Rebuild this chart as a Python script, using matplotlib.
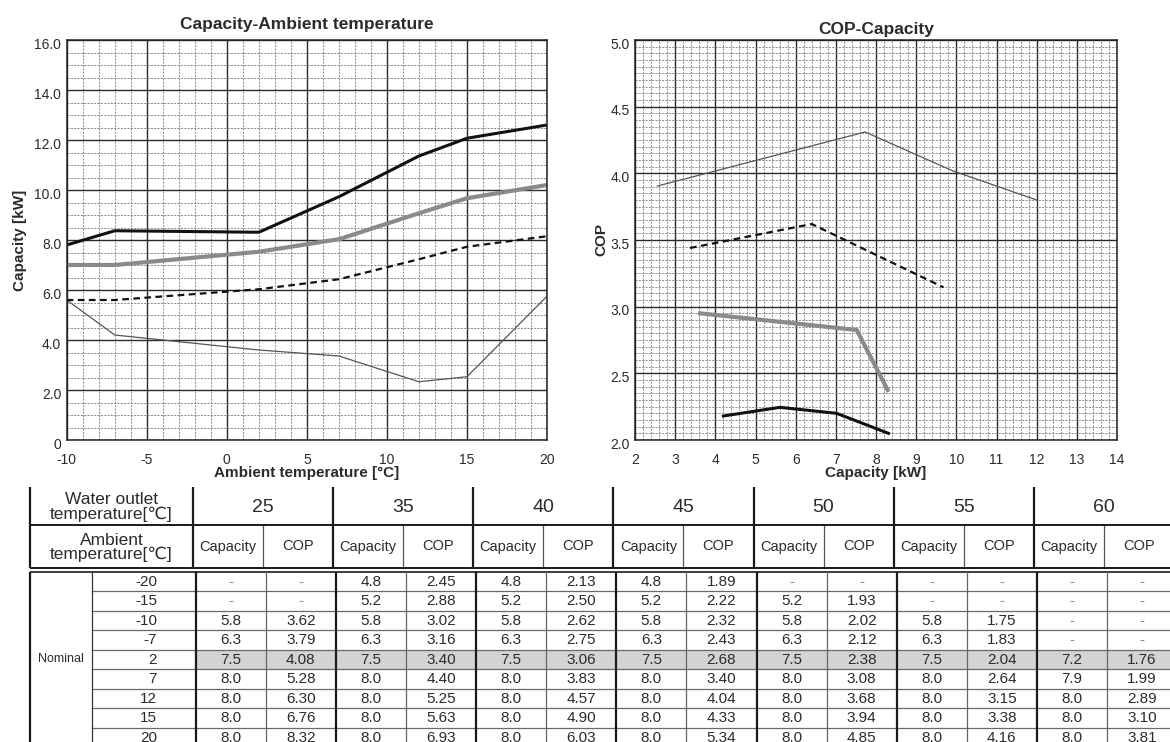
import matplotlib
matplotlib.use("Agg")
import matplotlib.pyplot as plt
from matplotlib.ticker import MultipleLocator, FuncFormatter
from matplotlib.patches import Rectangle
import matplotlib.transforms as mtransforms

plt.rcParams['font.family'] = ['Liberation Sans', 'DejaVu Sans']

# ---------------- data: Capacity vs ambient temperature ----------------
amb_x = [-10, -7, 2, 7, 12, 15, 20]
cap_black = [7.8, 8.37, 8.31, 9.73, 11.36, 12.07, 12.6]
cap_gray = [7.0, 7.0, 7.53, 8.03, 9.07, 9.67, 10.2]
cap_dash = [5.6, 5.6, 6.03, 6.43, 7.23, 7.73, 8.15]
cap_thin = [5.6, 4.2, 3.6, 3.36, 2.33, 2.53, 5.75]

# ---------------- data: COP vs capacity ----------------
cop_thin_x = [2.56, 7.73, 9.9, 12.0]
cop_thin_y = [3.905, 4.31, 4.02, 3.80]
cop_dash_x = [3.37, 6.40, 9.68]
cop_dash_y = [3.44, 3.62, 3.145]
cop_gray_x = [3.62, 7.52, 8.29]
cop_gray_y = [2.95, 2.825, 2.375]
cop_black_x = [4.20, 5.61, 7.02, 8.31]
cop_black_y = [2.18, 2.245, 2.20, 2.05]

# ---------------- data: table ----------------
water_temps = [25, 35, 40, 45, 50, 55, 60]
amb_rows = [-20, -15, -10, -7, 2, 7, 12, 15, 20]
cap_25 = [None, None, 5.8, 6.3, 7.5, 8.0, 8.0, 8.0, 8.0]
cop_25 = [None, None, 3.62, 3.79, 4.08, 5.28, 6.30, 6.76, 8.32]
cap_35 = [4.8, 5.2, 5.8, 6.3, 7.5, 8.0, 8.0, 8.0, 8.0]
cop_35 = [2.45, 2.88, 3.02, 3.16, 3.40, 4.40, 5.25, 5.63, 6.93]
cap_40 = [4.8, 5.2, 5.8, 6.3, 7.5, 8.0, 8.0, 8.0, 8.0]
cop_40 = [2.13, 2.50, 2.62, 2.75, 3.06, 3.83, 4.57, 4.90, 6.03]
cap_45 = [4.8, 5.2, 5.8, 6.3, 7.5, 8.0, 8.0, 8.0, 8.0]
cop_45 = [1.89, 2.22, 2.32, 2.43, 2.68, 3.40, 4.04, 4.33, 5.34]
cap_50 = [None, 5.2, 5.8, 6.3, 7.5, 8.0, 8.0, 8.0, 8.0]
cop_50 = [None, 1.93, 2.02, 2.12, 2.38, 3.08, 3.68, 3.94, 4.85]
cap_55 = [None, None, 5.8, 6.3, 7.5, 8.0, 8.0, 8.0, 8.0]
cop_55 = [None, None, 1.75, 1.83, 2.04, 2.64, 3.15, 3.38, 4.16]
cap_60 = [None, None, None, None, 7.2, 7.9, 8.0, 8.0, 8.0]
cop_60 = [None, None, None, None, 1.76, 1.99, 2.89, 3.10, 3.81]
highlight_row = 2  # ambient temperature of the nominal (shaded) row

W, H = 1170, 742
fig = plt.figure(figsize=(W / 100, H / 100), dpi=100)
fig.patch.set_facecolor('white')

TXT = '#2b2b2b'


def style_grid(ax, xmaj, xmin, ymaj, ymin):
    ax.xaxis.set_major_locator(MultipleLocator(xmaj))
    ax.xaxis.set_minor_locator(MultipleLocator(xmin))
    ax.yaxis.set_major_locator(MultipleLocator(ymaj))
    ax.yaxis.set_minor_locator(MultipleLocator(ymin))
    ax.grid(which='minor', color='#7a7a7a', lw=0.6, ls=(0, (2.5, 1.5)))
    ax.grid(which='major', color='#2a2a2a', lw=1.0, ls='-')
    ax.set_axisbelow(True)
    ax.tick_params(which='both', length=0, labelsize=10, labelcolor=TXT)
    ax.tick_params(axis='x', pad=9)
    ax.tick_params(axis='y', pad=4)
    for s in ax.spines.values():
        s.set_color('#222222')
        s.set_linewidth(1.1)


# ---------------- left chart ----------------
ax1 = fig.add_axes([66.7 / W, 1 - 440 / H, (547 - 66.7) / W, 400 / H])
ax1.set_xlim(-10, 20)
ax1.set_ylim(0, 16)
style_grid(ax1, 5, 1, 2, 0.5)
ax1.xaxis.set_major_formatter(FuncFormatter(lambda v, p: f"{int(round(v))}"))
ax1.yaxis.set_major_formatter(FuncFormatter(lambda v, p: "0" if abs(v) < 1e-9 else f"{v:.1f}"))
ax1.plot(amb_x, cap_thin, color='#555555', lw=0.9)
ax1.plot(amb_x, cap_dash, color='#111111', lw=1.6, ls=(0, (3, 2)))
ax1.plot(amb_x, cap_gray, color='#8a8a8a', lw=3.0)
ax1.plot(amb_x, cap_black, color='#111111', lw=2.2)
ax1.set_title('Capacity-Ambient temperature', fontsize=12.5, fontweight='bold', color=TXT, pad=8)
ax1.set_xlabel('Ambient temperature [°C]', fontsize=11, fontweight='bold', color=TXT, labelpad=0)
ax1.set_ylabel('Capacity [kW]', fontsize=11, fontweight='bold', color=TXT, labelpad=5)

# ---------------- right chart ----------------
ax2 = fig.add_axes([635 / W, 1 - 440 / H, (1117 - 635) / W, 400 / H])
ax2.set_xlim(2, 14)
ax2.set_ylim(2.0, 5.0)
style_grid(ax2, 1, 0.2, 0.5, 0.05)
ax2.xaxis.set_major_formatter(FuncFormatter(lambda v, p: f"{int(round(v))}"))
ax2.yaxis.set_major_formatter(FuncFormatter(lambda v, p: f"{v:.1f}"))
ax2.plot(cop_thin_x, cop_thin_y, color='#555555', lw=0.9)
ax2.plot(cop_dash_x, cop_dash_y, color='#111111', lw=1.6, ls=(0, (3, 2)))
ax2.plot(cop_gray_x, cop_gray_y, color='#8a8a8a', lw=3.0)
ax2.plot(cop_black_x, cop_black_y, color='#111111', lw=2.2)
ax2.set_title('COP-Capacity', fontsize=12.5, fontweight='bold', color=TXT, pad=4)
ax2.set_xlabel('Capacity [kW]', fontsize=11, fontweight='bold', color=TXT, labelpad=0)
ax2.set_ylabel('COP', fontsize=11, fontweight='bold', color=TXT, labelpad=1)

# shift y tick labels slightly downward, as in the reference
fig.canvas.draw()
down = mtransforms.ScaledTranslation(0, -2.2 / 72, fig.dpi_scale_trans)
for ax in (ax1, ax2):
    for lab in ax.get_yticklabels():
        lab.set_transform(lab.get_transform() + down)

# ---------------- table ----------------
axt = fig.add_axes([0, 0, 1, 1], zorder=-1)
axt.set_xlim(0, W)
axt.set_ylim(H, 0)
axt.axis('off')

caps = [cap_25, cap_35, cap_40, cap_45, cap_50, cap_55, cap_60]
cops = [cop_25, cop_35, cop_40, cop_45, cop_50, cop_55, cop_60]

x_left = 30.0
x_head = 192.7
block_w = 140.2
h_top, h_mid, h_bot = 487.0, 525.0, 568.0
b_top = 571.5
row_h = 19.5
b_off = 3.0  # body columns are slightly offset from the header columns
x_nom = 92.0
x_amb = x_head + b_off

blk = [x_head + i * block_w for i in range(len(water_temps) + 1)]
K = dict(color='#1a1a1a', solid_capstyle='butt')

# header vertical lines
axt.plot([x_left, x_left], [h_top, h_bot], lw=1.6, **K)
for xb in blk:
    axt.plot([xb, xb], [h_top, h_bot], lw=1.6, **K)
for xb in blk[:-1]:
    xs = xb + block_w / 2
    axt.plot([xs, xs], [h_mid, h_bot], lw=0.9, color='#555555')
# header horizontal lines
axt.plot([x_left, W], [h_mid, h_mid], lw=1.4, **K)
axt.plot([x_left, W], [h_bot, h_bot], lw=1.4, **K)
axt.plot([x_left, W], [b_top, b_top], lw=1.2, **K)

# header texts
axt.text((x_left + x_head) / 2, (h_top + h_mid) / 2 + 1, 'Water outlet\ntemperature[℃]',
         ha='center', va='center', fontsize=12.5, color=TXT, linespacing=0.9)
axt.text((x_left + x_head) / 2, (h_mid + h_bot) / 2 + 1, 'Ambient\ntemperature[℃]',
         ha='center', va='center', fontsize=12.5, color=TXT, linespacing=0.9)
for i, t in enumerate(water_temps):
    cx = blk[i] + block_w / 2
    axt.text(cx, (h_top + h_mid) / 2 + 1, str(t), ha='center', va='center', fontsize=14, color=TXT)
    axt.text(blk[i] + block_w / 4, (h_mid + h_bot) / 2, 'Capacity', ha='center', va='center',
             fontsize=10.5, color=TXT)
    axt.text(blk[i] + 3 * block_w / 4, (h_mid + h_bot) / 2, 'COP', ha='center', va='center',
             fontsize=10.5, color=TXT)

# body
n = len(amb_rows)
hi = amb_rows.index(highlight_row)
axt.add_patch(Rectangle((x_amb, b_top + hi * row_h), W - x_amb, row_h,
                        facecolor='#d3d3d3', edgecolor='none', zorder=0))
for k in range(1, n + 1):
    y = b_top + k * row_h
    axt.plot([x_nom, W], [y, y], lw=0.9, color='#6a6a6a')
axt.plot([x_left, x_left], [b_top, H + 10], lw=1.6, **K)
axt.plot([x_nom, x_nom], [b_top, H + 10], lw=0.9, color='#333333')
for xb in blk:
    axt.plot([xb + b_off, xb + b_off], [b_top, H + 10], lw=1.6, **K)
for xb in blk[:-1]:
    xs = xb + b_off + block_w / 2
    axt.plot([xs, xs], [b_top, H + 10], lw=0.9, color='#666666')

axt.text((x_left + x_nom) / 2, b_top + (hi + 0.5) * row_h, 'Nominal', ha='center', va='center',
         fontsize=9, color=TXT)
FS = 11
for r, a in enumerate(amb_rows):
    cy = b_top + (r + 0.5) * row_h + 0.5
    axt.text(157, cy, str(a), ha='right', va='center', fontsize=FS, color=TXT)
    for i in range(len(water_temps)):
        x0 = blk[i] + b_off
        cv, pv = caps[i][r], cops[i][r]
        if cv is None:
            axt.text(x0 + block_w / 4, cy, '-', ha='center', va='center', fontsize=FS, color='#8a8a8a')
        else:
            axt.text(x0 + block_w / 4, cy, f"{cv:.1f}", ha='center', va='center', fontsize=FS, color=TXT)
        if pv is None:
            axt.text(x0 + 3 * block_w / 4, cy, '-', ha='center', va='center', fontsize=FS, color='#8a8a8a')
        else:
            axt.text(x0 + 3 * block_w / 4, cy, f"{pv:.2f}", ha='center', va='center', fontsize=FS, color=TXT)

fig.savefig('out.png', dpi=100, facecolor='white')
